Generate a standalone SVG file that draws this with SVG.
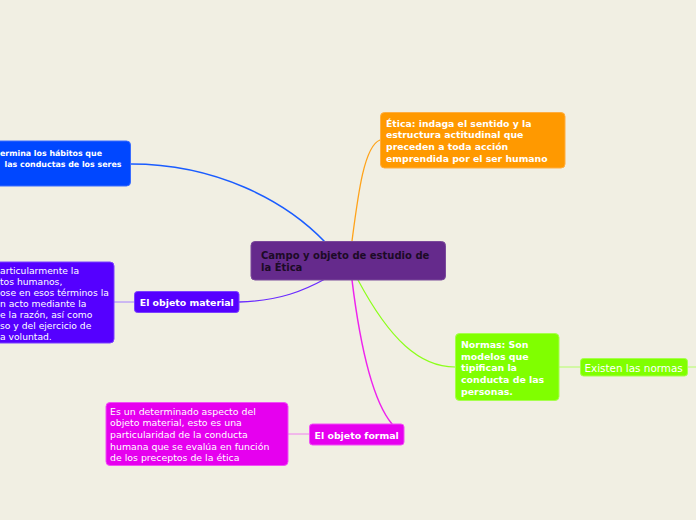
<svg xmlns="http://www.w3.org/2000/svg" width="696" height="520" viewBox="0 0 696 520">
<style>
.t{font-family:"DejaVu Sans",Verdana,sans-serif;fill:#fff}
.b{font-weight:bold}
.c{fill:none;stroke-linecap:round}
</style>
<rect width="696" height="520" fill="#f1efe3"/>
<g id="connectors">
<path class="c" d="M131,164 C215,164 285,200 325,242" stroke="#1a5cff" stroke-width="1.5"/>
<path class="c" d="M239,302 C280,301 305,290 325,279" stroke="#6a2bff" stroke-width="1.3"/>
<path class="c" d="M352,241 C358,195 364,146 380,140" stroke="#ffa31a" stroke-width="1.3"/>
<path class="c" d="M358,280 C390,340 420,367 455,367" stroke="#8cff1a" stroke-width="1.2"/>
<path class="c" d="M352,280 C360,345 372,400 392,424" stroke="#ee22ee" stroke-width="1.5"/>
<path class="c" d="M114,302 H135" stroke="#a680ff" stroke-width="1"/>
<path class="c" d="M288,434 H309" stroke="#f080f0" stroke-width="1"/>
<path class="c" d="M559,367 H580" stroke="#b3ff66" stroke-width="1"/>
<path class="c" d="M688,367 H696" stroke="#b3ff66" stroke-width="1"/>
</g>
<g id="n-blue">
<rect x="-10" y="141" width="140.5" height="45" rx="4" fill="#0047ff" stroke="#3a6cff" stroke-width="1"/>
<text class="t b" font-size="7.9"><tspan x="0" y="155.5">ermina los hábitos que</tspan><tspan x="4.5" y="167">las conductas de los seres</tspan></text>
</g>
<g id="n-central">
<rect x="251" y="241.5" width="194.5" height="38.5" rx="4" fill="#652a8c" stroke="#7a4a9a" stroke-width="1"/>
<text font-family="DejaVu Sans,Verdana,sans-serif" font-weight="bold" font-size="10" fill="#1c0b26"><tspan x="261" y="259">Campo y objeto de estudio de</tspan><tspan x="261" y="271">la Ética</tspan></text>
</g>
<g id="n-etica">
<rect x="380.5" y="112.5" width="184.5" height="55.5" rx="4" fill="#ff9900" stroke="#ffad40" stroke-width="1"/>
<text class="t b" font-size="9.3"><tspan x="386" y="126.5">Ética: indaga el sentido y la</tspan><tspan x="386" y="138.2">estructura actitudinal que</tspan><tspan x="386" y="149.9">preceden a toda acción</tspan><tspan x="386" y="161.6">emprendida por el ser humano</tspan></text>
</g>
<g id="n-material">
<rect x="134.5" y="291.5" width="104.5" height="21" rx="3" fill="#5500ff" stroke="#7a40ff" stroke-width="1"/>
<text class="t b" font-size="9.4" x="186.8" y="305.5" text-anchor="middle">El objeto material</text>
</g>
<g id="n-material-desc">
<rect x="-10" y="262" width="124" height="81" rx="4" fill="#5500ff" stroke="#7a40ff" stroke-width="1"/>
<text class="t" font-size="9.2"><tspan x="0" y="273.5">articularmente la</tspan><tspan x="0" y="284.5">tos humanos,</tspan><tspan x="0" y="295.5">ose en esos términos la</tspan><tspan x="0" y="306.5">n acto mediante la</tspan><tspan x="0" y="317.5">e la razón, así como</tspan><tspan x="0" y="328.5">so y del ejercicio de</tspan><tspan x="0" y="339.5">a voluntad.</tspan></text>
</g>
<g id="n-normas">
<rect x="455.5" y="333.5" width="103.5" height="67" rx="4" fill="#80ff00" stroke="#a6ff4d" stroke-width="1"/>
<text class="t b" font-size="9.4"><tspan x="461" y="348">Normas: Son</tspan><tspan x="461" y="359.7">modelos que</tspan><tspan x="461" y="371.4">tipifican la</tspan><tspan x="461" y="383.1">conducta de las</tspan><tspan x="461" y="394.8">personas.</tspan></text>
</g>
<g id="n-existen">
<rect x="580.5" y="358.5" width="107" height="17.5" rx="3" fill="#80ff00" stroke="#a6ff4d" stroke-width="1"/>
<text class="t" font-size="10.4" x="584.5" y="371.5">Existen las normas</text>
</g>
<g id="n-formal">
<rect x="309.5" y="424" width="94.5" height="21" rx="3" fill="#e600ef" stroke="#f050f5" stroke-width="1"/>
<text class="t b" font-size="9.4" x="356.7" y="438.5" text-anchor="middle">El objeto formal</text>
</g>
<g id="n-formal-desc">
<rect x="106" y="402.5" width="182" height="63" rx="4" fill="#e600ef" stroke="#f050f5" stroke-width="1"/>
<text class="t" font-size="9.4"><tspan x="110" y="414.5">Es un determinado aspecto del</tspan><tspan x="110" y="426.2">objeto material, esto es una</tspan><tspan x="110" y="437.9">particularidad de la conducta</tspan><tspan x="110" y="449.6">humana que se evalúa en función</tspan><tspan x="110" y="461.3">de los preceptos de la ética</tspan></text>
</g>
</svg>
